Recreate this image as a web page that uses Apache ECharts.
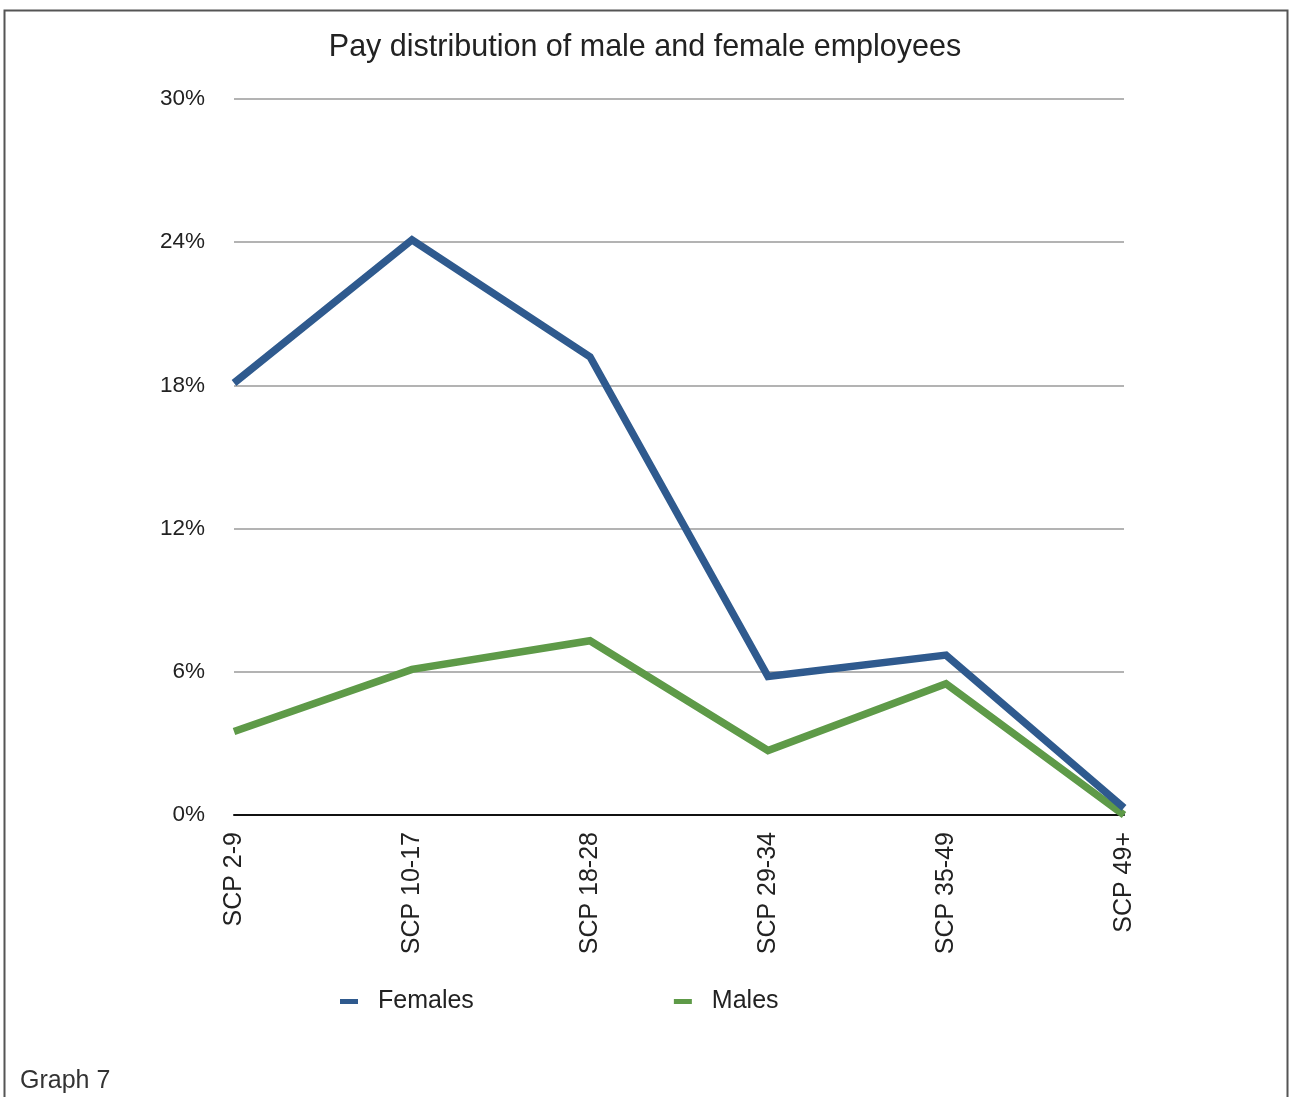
<!DOCTYPE html>
<html>
<head>
<meta charset="utf-8">
<script src="https://cdn.jsdelivr.net/npm/echarts@6/dist/echarts.min.js"></script>
<style>
  html, body { margin: 0; padding: 0; background: #fff; }
  #chart { width: 1290px; height: 1097px; }
</style>
</head>
<body>
<div id="chart"></div>
<script>
// Pay bands (spinal column points)
const categories = ['SCP 2-9', 'SCP 10-17', 'SCP 18-28', 'SCP 29-34', 'SCP 35-49', 'SCP 49+'];
// Share of employees in each band, percent
const females = [18.1, 24.1, 19.2, 5.8, 6.7, 0.3];
const males = [3.5, 6.1, 7.3, 2.7, 5.5, 0.0];
const yTicks = { min: 0, max: 30, interval: 6 };

const FONT = '"Liberation Sans", "Helvetica Neue", Arial, sans-serif';

const chart = echarts.init(document.getElementById('chart'), null, { renderer: 'canvas' });

chart.setOption({
  backgroundColor: '#ffffff',
  animation: false,
  title: {
    text: 'Pay distribution of male and female employees',
    left: 'center',
    top: 27,
    textStyle: { fontFamily: FONT, fontSize: 30.5, fontWeight: 'normal', color: '#222' }
  },
  graphic: [
    {
      type: 'rect',
      shape: { x: 4.5, y: 10.5, width: 1283, height: 1100 },
      style: { fill: 'none', stroke: '#555', lineWidth: 2 },
      silent: true
    },
    {
      type: 'text',
      left: 20,
      top: 1069,
      style: { text: 'Graph 7', fontFamily: FONT, fontSize: 25, fill: '#333' }
    }
  ],
  legend: {
    left: 335,
    top: 984,
    itemWidth: 18,
    itemHeight: 5,
    itemGap: 200,
    icon: 'rect',
    textStyle: { fontFamily: FONT, fontSize: 25, color: '#222', padding: [0, 0, 0, 15] },
    data: ['Females', 'Males']
  },
  grid: { left: 234, right: 166, top: 99, bottom: 282, containLabel: false },
  xAxis: {
    type: 'category',
    data: categories,
    boundaryGap: false,
    axisLine: { show: true, lineStyle: { color: '#111', width: 2 } },
    axisTick: { show: false },
    axisLabel: {
      rotate: 90,
      margin: 17,
      fontFamily: FONT,
      fontSize: 25,
      color: '#222'
    },
    splitLine: { show: false }
  },
  yAxis: {
    type: 'value',
    min: yTicks.min,
    max: yTicks.max,
    interval: yTicks.interval,
    axisLine: { show: false },
    axisTick: { show: false },
    axisLabel: {
      formatter: '{value}%',
      margin: 29,
      fontFamily: FONT,
      fontSize: 22.5,
      color: '#222'
    },
    splitLine: { show: true, lineStyle: { color: '#b3b3b3', width: 2 } }
  },
  series: [
    {
      name: 'Females',
      type: 'line',
      data: females,
      symbol: 'none',
      color: '#2F5A8E',
      lineStyle: { width: 7.5, color: '#2F5A8E', join: 'miter' },
      z: 3
    },
    {
      name: 'Males',
      type: 'line',
      data: males,
      symbol: 'none',
      color: '#5E9A48',
      lineStyle: { width: 7.5, color: '#5E9A48', join: 'miter' },
      z: 2
    }
  ]
});
</script>
</body>
</html>
